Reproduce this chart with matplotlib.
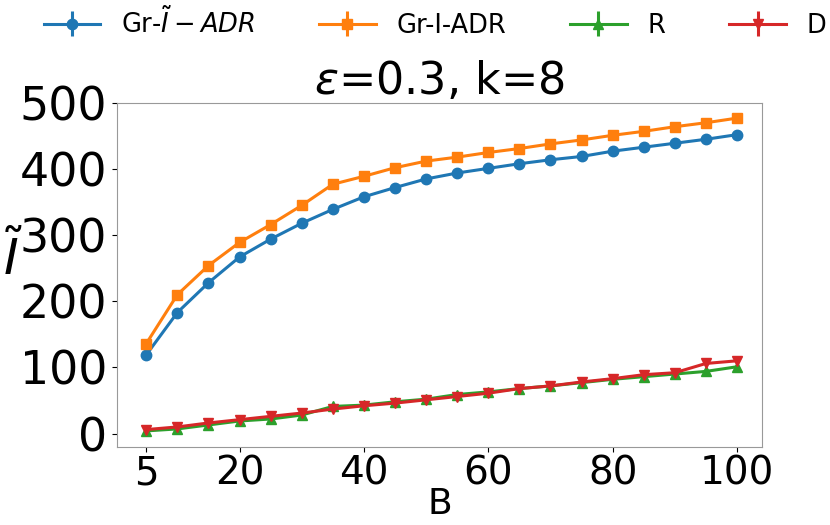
import numpy as np
import matplotlib
matplotlib.use("Agg")
import matplotlib.pyplot as plt

B = [5, 10, 15, 20, 25, 30, 35, 40, 45, 50, 55, 60, 65, 70, 75, 80, 85, 90, 95, 100]

gr_tilde = [119, 183, 228, 267, 294, 318, 339, 358, 372, 385, 394, 401, 408, 414, 419, 427, 433, 439, 445, 452]
gr_i = [136, 210, 254, 289, 316, 345, 377, 389, 402, 412, 418, 425, 431, 438, 444, 451, 457, 464, 470, 477]
r_vals = [4, 7, 13, 19, 22, 28, 41, 43, 48, 52, 59, 63, 68, 72, 77, 82, 86, 90, 94, 101]
d_vals = [6, 10, 16, 21, 26, 31, 37, 42, 46, 51, 56, 61, 68, 72, 78, 83, 89, 92, 106, 110]

gr_tilde_err = [3, 4, 4, 4, 5, 5, 5, 6, 6, 5, 5, 5, 5, 4, 4, 4, 4, 4, 4, 4]
gr_i_err = [2, 2, 2, 2, 2, 2, 2, 2, 2, 2, 2, 2, 2, 2, 2, 2, 2, 2, 2, 2]
r_err = [2, 2, 2, 2, 2, 2, 3, 3, 3, 3, 3, 3, 3, 3, 3, 3, 3, 3, 3, 3]
d_err = [2, 2, 2, 2, 2, 2, 4, 4, 4, 4, 4, 4, 3, 3, 3, 3, 3, 3, 4, 4]

labels = [r'Gr-$\tilde{I}-ADR$', 'Gr-I-ADR', 'R', 'D']

fig = plt.figure(figsize=(8.3, 5.25), dpi=100)
ax = fig.add_axes([0.141, 0.149, 0.777, 0.655])

series = [(gr_tilde, gr_tilde_err, 'o', 'tab:blue'),
          (gr_i, gr_i_err, 's', 'tab:orange'),
          (r_vals, r_err, '^', 'tab:green'),
          (d_vals, d_err, 'v', 'tab:red')]
for (vals, err, mk, col), lab in zip(series, labels):
    ax.errorbar(B, vals, yerr=err, marker=mk, color=col, lw=2.2, ms=7.5, label=lab)

ax.set_xlim(0.3, 104)
ax.set_ylim(-20, 500)
ax.set_xticks([5, 20, 40, 60, 80, 100])
ax.set_yticks([0, 100, 200, 300, 400, 500])
ax.tick_params(axis='x', labelsize=28, pad=2)
ax.tick_params(axis='y', labelsize=33)
for s in ax.spines.values():
    s.set_color('#999999')

ax.set_title(r'$\epsilon$=0.3, k=8', fontsize=32, pad=4)
ax.set_xlabel('B', fontsize=26, labelpad=-4)
ax.set_ylabel(r'$\tilde{I}$', fontsize=36, rotation=0)
ax.yaxis.set_label_coords(-0.162, 0.47)

fig.legend(loc='upper center', bbox_to_anchor=(0.524, 1.03), ncol=4, frameon=False,
           fontsize=18.5, handlelength=2.2, columnspacing=2.5)

fig.savefig('out.png', dpi=100)
